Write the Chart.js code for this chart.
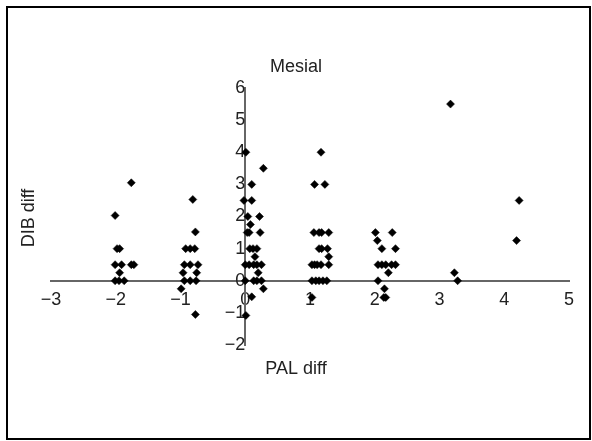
<!DOCTYPE html>
<html>
<head>
<meta charset="utf-8">
<style>
  html, body { margin: 0; padding: 0; background: #fff; }
  #wrap { width: 592px; height: 441px; position: relative; }
</style>
<script src="https://cdn.jsdelivr.net/npm/chart.js@4/dist/chart.umd.min.js"></script>
</head>
<body>
<div id="wrap"><canvas id="c" width="592" height="441"></canvas></div>
<script>
// ---- data ----
const chartTitle = "Mesial";
const xAxisTitle = "PAL diff";
const yAxisTitle = "DIB diff";
const xTicks = [-3, -2, -1, 0, 1, 2, 3, 4, 5];
const yTicks = [-2, -1, 0, 1, 2, 3, 4, 5, 6];

const palDiff = [
  -1.76, -2.01, -1.98, -1.94, -2.01, -1.91, -1.76, -1.72, -1.94, -2.01, -1.95, -1.87,
  -0.81, -0.77, -0.92, -0.85, -0.78, -0.94, -0.85, -0.73, -0.96, -0.75, -0.94, -0.85, -0.76, -0.99, -0.77,
  0.01, 0.28, 0.10, -0.02, 0.10, 0.04, 0.22, 0.08, 0.03, 0.06, 0.23, 0.07, 0.12, 0.18, 0.15,
  0.00, 0.06, 0.13, 0.18, 0.25, 0.20, 0.00, 0.13, 0.18, 0.25, 0.28, 0.10, 0.01,
  1.17, 1.07, 1.23, 1.06, 1.14, 1.18, 1.29, 1.14, 1.18, 1.27, 1.29,
  1.03, 1.07, 1.11, 1.17, 1.29, 1.03, 1.09, 1.14, 1.20, 1.26, 1.03,
  2.01, 2.27, 2.04, 2.11, 2.32, 2.05, 2.11, 2.17, 2.26, 2.32, 2.21, 2.05, 2.15, 2.14, 2.17,
  3.17, 3.23, 3.28,
  4.23, 4.19
];
const dibDiff = [
  3.05, 2.03, 1.0, 1.0, 0.5, 0.5, 0.5, 0.5, 0.25, 0, 0, 0,
  2.53, 1.52, 1.0, 1.0, 1.0, 0.5, 0.5, 0.5, 0.25, 0.25, 0, 0, 0, -0.25, -1.05,
  4.0, 3.5, 3.0, 2.5, 2.5, 2.0, 2.0, 1.75, 1.5, 1.5, 1.5, 1.0, 1.0, 1.0, 0.75,
  0.5, 0.5, 0.5, 0.5, 0.5, 0.25, 0, 0, 0, 0, -0.25, -0.5, -1.08,
  4.0, 3.0, 3.0, 1.5, 1.5, 1.5, 1.5, 1.0, 1.0, 1.0, 0.75,
  0.5, 0.5, 0.5, 0.5, 0.5, 0, 0, 0, 0, 0, -0.52,
  1.5, 1.5, 1.25, 1.0, 1.0, 0.5, 0.5, 0.5, 0.5, 0.5, 0.25, 0, -0.25, -0.52, -0.52,
  5.5, 0.25, 0,
  2.5, 1.25
];

const points = palDiff.map((x, i) => ({ x: x, y: dibDiff[i] }));
const FONT = "'Liberation Sans', Arial, sans-serif";

const decor = {
  id: 'decor',
  afterDraw(chart) {
    const ctx = chart.ctx;
    const ca = chart.chartArea;
    ctx.save();
    ctx.strokeStyle = '#000';
    ctx.lineWidth = 2;
    ctx.strokeRect(7, 7, 583, 432);
    ctx.fillStyle = '#222';
    ctx.font = '18px ' + FONT;
    ctx.textAlign = 'center';
    ctx.textBaseline = 'middle';
    const cx = (ca.left + ca.right) / 2 + 0;
    ctx.fillText(chartTitle, 296, 67);
    ctx.fillText(xAxisTitle, 296, 369);
    ctx.translate(29, 218);
    ctx.rotate(-Math.PI / 2);
    ctx.fillText(yAxisTitle, 0, 0);
    ctx.restore();
  }
};

new Chart(document.getElementById('c'), {
  type: 'scatter',
  data: {
    datasets: [{
      data: points,
      pointStyle: 'rectRot',
      pointRadius: 4,
      pointHoverRadius: 4,
      backgroundColor: '#000',
      borderColor: '#000',
      borderWidth: 0.5
    }]
  },
  options: {
    responsive: false,
    animation: false,
    events: [],
    layout: { padding: { left: 51, right: 23, top: 88, bottom: 96 } },
    plugins: { legend: { display: false }, tooltip: { enabled: false }, title: { display: false } },
    scales: {
      x: {
        type: 'linear',
        min: -3, max: 5,
        position: { y: 0 },
        afterBuildTicks(s) { s.ticks = xTicks.map(v => ({ value: v })); },
        grid: { display: false, drawTicks: false },
        border: { display: true, color: '#666', width: 2 },
        ticks: {
          autoSkip: false,
          maxRotation: 0,
          padding: 8,
          color: '#222',
          font: { family: FONT, size: 18 },
          callback: v => (v < 0 ? '\u2212' + Math.abs(v) : String(v))
        }
      },
      y: {
        type: 'linear',
        min: -2, max: 6,
        position: { x: 0 },
        afterBuildTicks(s) { s.ticks = yTicks.map(v => ({ value: v })); },
        grid: { display: false, drawTicks: false },
        border: { display: true, color: '#666', width: 2 },
        ticks: {
          autoSkip: false,
          padding: 6,
          color: '#222',
          font: { family: FONT, size: 18 },
          callback: v => (v < 0 ? '\u2212' + Math.abs(v) : String(v))
        }
      }
    }
  },
  plugins: [decor]
});
</script>
</body>
</html>
